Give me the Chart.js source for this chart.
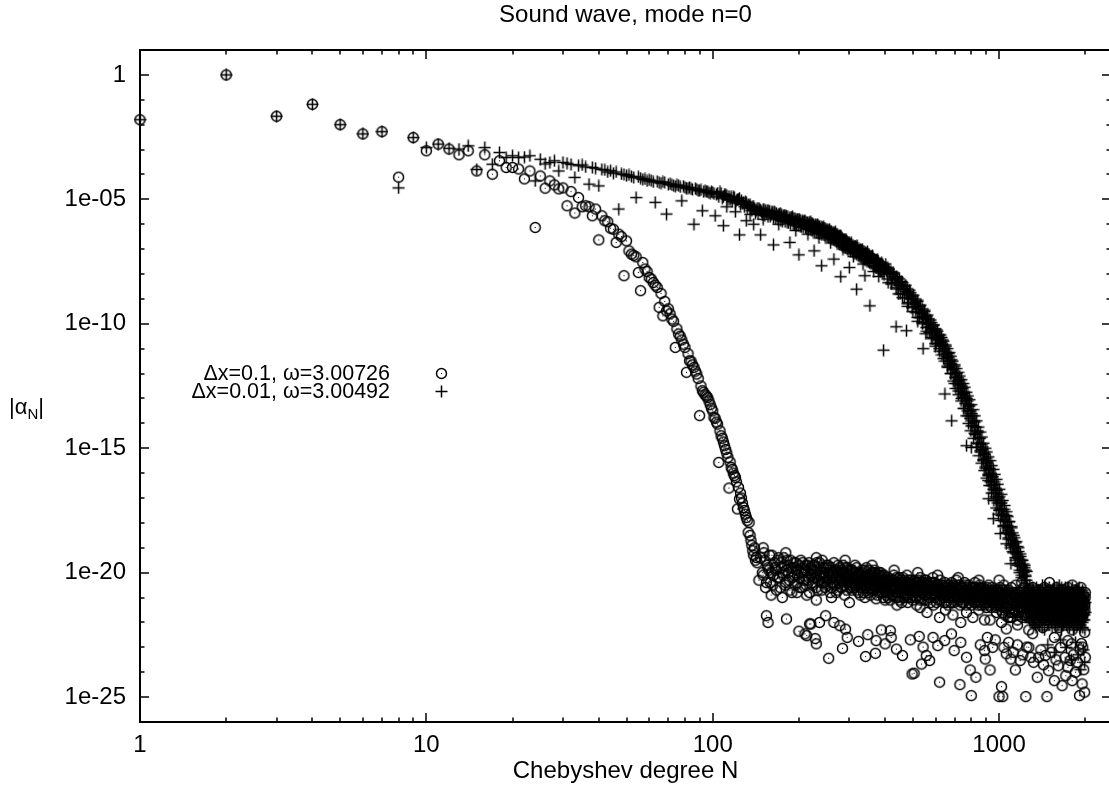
<!DOCTYPE html>
<html>
  <head>
    <title>Sound wave, mode n=0</title>
    <script src="https://cdn.jsdelivr.net/npm/chart.js"></script>
    <style>
      html,
      body {
        margin: 0;
        padding: 0;
        background: #fff;
        overflow: hidden;
      }
      #wrap {
        width: 1111px;
        height: 793px;
      }
    </style>
  </head>
  <body>
    <div id="wrap">
      <canvas id="chebChart" width="1111" height="793"></canvas>
    </div>

    <script>
      // Chebyshev coefficients, stored as [N, log10 |alpha_N|]

      // dx = 0.1 run
      const circHead = [
        [1, -1.8], [2, 0], [3, -1.66], [4, -1.18], [5, -2.0], [6, -2.37], [7, -2.28], [8, -4.11],
        [9, -2.52], [10, -3.05], [11, -2.78], [12, -2.98], [13, -3.21], [14, -3.05], [15, -3.86],
        [16, -3.21], [17, -3.99], [18, -3.45], [19, -3.72], [20, -3.72], [21, -3.78], [22, -4.18],
        [23, -3.86], [24, -6.13], [25, -4.06], [26, -4.55], [27, -4.26], [28, -4.42], [29, -4.58],
        [30, -4.54],
      ];
      const circFall = [
        [31, -5.26], [32, -4.69], [33, -5.55], [34, -4.93], [35, -5.3], [36, -5.26], [37, -5.3],
        [38, -5.66], [39, -5.39], [40, -6.63], [41, -5.66], [42, -5.86], [43, -5.9], [44, -6.16],
        [45, -6.2], [46, -6.73], [47, -6.4], [48, -6.5], [49, -8.07], [50, -6.67], [51, -7.07],
        [52, -7.2], [53, -7.25], [54, -7.31], [55, -7.94], [56, -8.67], [57, -7.54], [58, -7.8],
        [59, -7.9], [60, -8.14], [61, -8.2], [62, -8.34], [63, -8.45], [64, -8.54], [65, -9.34],
        [66, -8.78], [67, -9.68], [68, -9.1], [69, -9.48], [70, -9.4], [71, -9.6], [72, -9.81],
        [73, -9.9], [74, -10.95], [75, -10.2], [76, -10.41], [77, -10.5], [78, -10.65], [79, -10.82],
        [80, -10.95], [81, -11.95], [82, -11.2], [83, -11.49], [84, -11.5], [85, -11.65], [86, -11.75],
        [87, -11.9], [88, -12.02], [89, -12.2], [90, -13.69], [91, -12.5], [92, -12.69], [93, -12.75],
        [94, -12.85], [95, -12.9], [96, -12.96], [97, -13.1], [98, -13.25], [99, -13.39], [100, -13.5],
        [101, -13.76], [102, -13.8], [103, -13.95], [104, -14.03], [105, -15.57], [106, -14.3],
        [107, -14.5], [108, -14.6], [109, -14.75], [110, -14.9], [111, -15.05], [112, -15.2],
        [113, -15.37], [114, -16.6], [115, -15.55], [116, -15.77], [117, -15.85], [118, -16.0],
        [119, -16.1], [120, -16.17], [121, -16.35], [122, -17.44], [123, -16.57], [124, -17.04],
        [125, -16.8], [126, -17.0], [127, -17.2], [128, -17.38], [129, -17.5], [130, -17.65],
        [131, -17.78], [132, -17.9], [133, -18.38], [134, -17.98], [135, -18.5], [136, -18.71],
        [137, -18.9], [138, -19.12], [139, -19.3], [140, -19.0], [141, -19.5], [142, -19.39],
      ];
      const circBand = [
        [143, -19.6], [145, -20.3], [147, -19.4], [149, -20.0], [151, -19.2], [153, -20.6], [155, -19.7],
        [157, -19.9], [159, -20.4], [161, -19.3], [163, -20.1], [165, -19.8], [167, -20.7], [169, -19.5],
        [171, -20.2], [173, -19.6], [175, -20.0], [177, -19.4], [179, -20.5], [181, -19.9], [183, -19.7],
        [185, -20.3], [187, -19.5], [189, -20.8], [191, -19.8], [193, -20.1], [195, -19.6], [197, -20.4],
        [199, -19.9], [201, -20.2], [203, -19.5], [205, -20.6], [207, -19.8], [209, -20.0], [211, -19.7],
        [213, -20.9], [215, -20.3], [217, -19.6], [219, -20.1], [221, -19.9], [223, -20.5], [225, -19.7],
        [227, -20.2], [229, -20.0], [231, -19.6], [233, -20.7], [235, -20.1], [237, -19.8], [239, -20.4],
        [241, -19.5], [243, -20.2], [245, -20.0], [247, -20.6], [249, -19.8], [251, -20.3], [253, -19.7],
        [255, -20.1], [257, -20.8], [259, -19.9], [261, -20.4], [263, -20.0], [265, -19.6], [267, -20.5],
        [269, -20.2], [271, -19.9], [273, -20.7], [275, -20.1], [277, -19.8], [279, -20.3], [281, -20.0],
        [283, -20.6], [285, -19.7], [287, -20.2], [289, -20.9], [291, -20.0], [293, -20.4], [295, -19.8],
        [297, -20.3], [299, -20.1], [302, -20.6], [305, -19.9], [308, -20.4], [311, -20.2], [314, -19.7],
        [317, -20.5], [320, -20.1], [323, -20.8], [326, -20.0], [329, -20.3], [332, -19.9], [335, -20.6],
        [338, -20.2], [341, -20.4], [344, -19.8], [347, -20.7], [350, -20.1], [353, -20.3], [356, -20.9],
        [359, -20.0], [362, -20.5], [365, -20.2], [368, -19.9], [371, -20.6], [374, -20.3], [377, -20.1],
        [380, -20.8], [383, -20.4], [386, -20.0], [389, -20.5], [392, -20.2], [395, -21.0], [398, -20.3],
        [401, -20.4], [405, -20.9], [409, -20.2], [413, -20.6], [417, -21.1], [421, -20.3], [425, -20.7],
        [429, -20.1], [433, -20.5], [437, -21.0], [441, -20.4], [445, -20.8], [449, -20.2], [453, -20.6],
        [457, -21.2], [461, -20.5], [465, -20.3], [469, -20.9], [473, -20.6], [477, -20.1], [481, -20.7],
        [486, -20.4], [491, -21.0], [496, -20.5], [501, -20.8], [506, -20.3], [511, -20.6], [516, -21.3],
        [521, -20.4], [526, -20.9], [531, -20.2], [536, -20.7], [541, -20.5], [546, -21.1], [551, -20.6],
        [556, -20.3], [561, -20.8], [566, -20.5], [571, -21.0], [576, -20.4], [581, -20.7], [587, -20.2],
        [593, -20.9], [599, -20.6], [605, -21.2], [611, -20.5], [617, -20.8], [623, -20.3], [629, -20.7],
        [635, -21.0], [641, -20.6], [647, -20.4], [653, -20.9], [659, -20.7], [665, -21.3], [671, -20.5],
        [677, -20.8], [683, -20.4], [689, -21.0], [695, -20.6], [702, -20.9], [709, -20.3], [716, -20.7],
        [723, -21.1], [730, -20.5], [737, -20.8], [744, -20.6], [751, -21.2], [758, -20.4], [765, -20.9],
        [772, -20.7], [779, -21.0], [786, -20.5], [793, -20.8], [800, -21.3], [808, -20.6], [816, -20.9],
        [824, -20.4], [832, -21.1], [840, -20.7], [848, -20.9], [856, -20.5], [864, -21.2], [872, -20.8],
        [880, -20.6], [888, -21.0], [896, -20.7], [904, -21.4], [912, -20.8], [920, -20.5], [928, -21.1],
        [936, -20.9], [944, -20.6], [952, -21.2], [960, -20.8], [968, -21.0], [976, -20.7], [984, -21.3],
        [992, -20.9], [1000, -21.1], [1008, -20.6], [1016, -21.5], [1024, -20.9], [1032, -21.2],
        [1040, -20.5], [1048, -21.7], [1056, -21.0], [1064, -20.8], [1072, -21.4], [1080, -20.7],
        [1088, -21.1], [1096, -21.8], [1104, -20.6], [1112, -21.3], [1120, -20.9], [1128, -21.6],
        [1136, -21.0], [1144, -20.5], [1152, -21.2], [1160, -21.9], [1168, -20.8], [1176, -21.4],
        [1184, -21.0], [1192, -20.7], [1200, -21.5], [1210, -21.1], [1220, -20.6], [1230, -21.7],
        [1240, -21.2], [1250, -20.9], [1260, -21.4], [1270, -20.7], [1280, -21.8], [1290, -21.0],
        [1300, -21.3], [1310, -20.6], [1320, -21.6], [1330, -21.1], [1340, -20.8], [1350, -21.9],
        [1360, -21.2], [1370, -20.7], [1380, -21.5], [1390, -21.0], [1400, -21.3], [1410, -20.8],
        [1420, -21.7], [1430, -21.1], [1440, -20.6], [1450, -21.4], [1460, -21.9], [1470, -20.9],
        [1480, -21.2], [1490, -21.6], [1500, -20.7], [1512, -21.3], [1524, -21.0], [1536, -21.8],
        [1548, -20.8], [1560, -21.4], [1572, -21.1], [1584, -20.6], [1596, -21.7], [1608, -21.2],
        [1620, -20.9], [1632, -21.5], [1644, -22.0], [1656, -21.0], [1668, -20.7], [1680, -21.3],
        [1692, -21.8], [1704, -20.9], [1716, -21.4], [1728, -21.1], [1740, -20.6], [1752, -21.6],
        [1764, -21.2], [1776, -20.8], [1788, -21.9], [1800, -21.3], [1812, -21.0], [1824, -21.5],
        [1836, -20.7], [1848, -21.2], [1860, -21.7], [1872, -21.0], [1884, -20.8], [1896, -21.4],
        [1908, -21.9], [1920, -21.1], [1932, -20.6], [1944, -21.5], [1956, -21.2], [1968, -20.9],
        [1980, -21.6], [1992, -21.3], [2000, -20.8],
      ];
      const circBandFill = [
        [150, -20.1], [152, -19.5], [154, -20.4], [156, -19.8], [158, -19.3], [160, -20.0], [162, -20.5],
        [164, -19.6], [166, -19.9], [168, -20.2], [170, -19.4], [172, -20.6], [174, -19.8], [176, -20.1],
        [178, -19.7], [180, -20.4], [182, -19.5], [184, -20.0], [186, -20.7], [188, -19.8], [190, -20.2],
        [192, -19.6], [194, -20.5], [196, -19.9], [198, -20.1], [200, -19.7], [202, -20.6], [204, -20.0],
        [206, -19.6], [208, -20.3], [210, -19.9], [212, -20.5], [214, -19.7], [216, -20.2], [218, -20.8],
        [220, -19.8], [222, -20.1], [224, -20.4], [226, -19.7], [228, -20.2], [230, -20.6], [232, -19.9],
        [234, -20.3], [236, -19.6], [238, -20.1], [240, -20.7], [242, -20.0], [244, -19.8], [246, -20.4],
        [248, -20.2], [250, -19.7], [252, -20.5], [254, -20.0], [256, -20.3], [258, -19.8], [260, -20.6],
        [262, -20.1], [264, -20.4], [266, -19.9], [268, -20.2], [270, -20.8], [272, -20.0], [274, -19.7],
        [276, -20.4], [278, -20.2], [280, -20.6], [282, -19.9], [284, -20.3], [286, -20.0], [288, -20.5],
        [290, -19.8], [292, -20.2], [294, -20.7], [296, -20.1], [298, -20.4], [300, -19.9], [303, -20.3],
        [306, -20.7], [309, -20.0], [312, -20.5], [315, -20.2], [318, -19.8], [321, -20.4], [324, -20.1],
        [327, -20.6], [330, -20.3], [333, -20.0], [336, -20.8], [339, -20.2], [342, -20.5], [345, -20.1],
        [348, -20.4], [351, -19.9], [354, -20.6], [357, -20.3], [360, -20.1], [363, -20.7], [366, -20.4],
        [369, -20.0], [372, -20.5], [375, -20.2], [378, -20.6], [381, -20.0], [384, -20.3], [387, -20.8],
        [390, -20.4], [393, -20.1], [396, -20.6], [399, -20.3],
        [403, -20.6], [407, -20.3], [411, -20.8], [415, -20.4], [419, -20.6], [423, -20.9], [427, -20.3],
        [431, -20.7], [435, -20.4], [439, -20.6], [443, -21.0], [447, -20.5], [451, -20.3], [455, -20.8],
        [459, -20.4], [463, -20.7], [467, -21.0], [471, -20.4], [475, -20.6], [479, -20.9], [484, -20.3],
        [489, -20.7], [494, -20.5], [499, -21.1], [504, -20.6], [509, -20.4], [514, -20.8], [519, -20.6],
        [524, -20.3], [529, -21.0], [534, -20.5], [539, -20.8], [544, -20.4], [549, -20.9], [554, -20.6],
        [559, -20.4], [564, -21.1], [569, -20.7], [574, -20.5], [579, -20.9], [584, -20.6], [590, -20.4],
        [596, -21.0], [602, -20.7], [608, -20.5], [614, -21.1], [620, -20.6], [626, -20.9], [632, -20.5],
        [638, -20.8], [644, -21.2], [650, -20.6], [656, -20.8], [662, -20.5], [668, -21.0], [674, -20.7],
        [680, -21.2], [686, -20.6], [692, -20.8], [698, -21.1], [705, -20.6], [712, -20.9], [719, -20.5],
        [726, -21.0], [733, -20.7], [740, -21.2], [747, -20.6], [754, -20.9], [761, -20.7], [768, -21.3],
        [775, -20.6], [782, -20.9], [789, -21.1], [796, -20.6], [804, -21.0], [812, -20.8], [820, -21.2],
        [828, -20.6], [836, -20.9], [844, -21.3], [852, -20.7], [860, -21.0], [868, -20.6], [876, -21.1],
        [884, -20.8], [892, -21.3], [900, -20.9], [908, -20.6], [916, -21.2], [924, -20.8], [932, -21.0],
        [940, -21.4], [948, -20.7], [956, -21.1], [964, -20.9], [972, -21.3], [980, -20.8], [988, -21.1],
        [996, -20.7],
        [1004, -21.3], [1012, -20.8], [1020, -21.1], [1028, -21.6], [1036, -20.9], [1044, -21.2],
        [1052, -20.7], [1060, -21.4], [1068, -21.1], [1076, -21.8], [1084, -20.9], [1092, -21.3],
        [1100, -21.0], [1108, -21.6], [1116, -20.8], [1124, -21.2], [1132, -21.5], [1140, -20.9],
        [1148, -21.3], [1156, -21.0], [1164, -21.7], [1172, -21.1], [1180, -20.8], [1188, -21.4],
        [1196, -21.2], [1205, -21.8], [1215, -20.9], [1225, -21.3], [1235, -21.0], [1245, -21.6],
        [1255, -21.2], [1265, -20.8], [1275, -21.5], [1285, -21.1], [1295, -21.7], [1305, -21.0],
        [1315, -21.3], [1325, -20.9], [1335, -21.5], [1345, -21.2], [1355, -21.8], [1365, -21.0],
        [1375, -21.4], [1385, -20.9], [1395, -21.6], [1405, -21.2], [1415, -21.0], [1425, -21.5],
        [1435, -21.8], [1445, -21.1], [1455, -20.9], [1465, -21.4], [1475, -21.7], [1485, -21.0],
        [1495, -21.3], [1506, -20.9], [1518, -21.6], [1530, -21.2], [1542, -21.0], [1554, -21.7],
        [1566, -21.3], [1578, -20.9], [1590, -21.5], [1602, -21.1], [1614, -21.8], [1626, -21.0],
        [1638, -21.4], [1650, -20.8], [1662, -21.6], [1674, -21.2], [1686, -21.0], [1698, -21.5],
        [1710, -21.9], [1722, -21.1], [1734, -21.3], [1746, -20.9], [1758, -21.7], [1770, -21.2],
        [1782, -21.4], [1794, -21.0], [1806, -21.6], [1818, -21.2], [1830, -20.9], [1842, -21.5],
        [1854, -21.8], [1866, -21.1], [1878, -21.4], [1890, -21.0], [1902, -21.6], [1914, -21.2],
        [1926, -21.8], [1938, -21.0], [1950, -21.4], [1962, -21.7], [1974, -21.1], [1986, -21.3],
        [1998, -21.0],
      ];
      const circBandMore = [
        [301, -20.2], [304, -20.5], [307, -19.9], [310, -20.6], [313, -20.3], [316, -20.0], [319, -20.7],
        [322, -20.2], [325, -20.4], [328, -20.9], [331, -20.1], [334, -20.3], [337, -20.5], [340, -19.9],
        [343, -20.6], [346, -20.2], [349, -20.8], [352, -20.4], [355, -20.1], [358, -20.6], [361, -20.3],
        [364, -20.0], [367, -20.7], [370, -20.4], [373, -20.2], [376, -20.9], [379, -20.5], [382, -20.1],
        [385, -20.6], [388, -20.3], [391, -20.8], [394, -20.4], [397, -20.1],
        [402, -20.8], [406, -20.5], [410, -21.0], [414, -20.3], [418, -20.7], [422, -20.5], [426, -20.9],
        [430, -20.4], [434, -20.6], [438, -20.2], [442, -20.8], [446, -20.5], [450, -21.1], [454, -20.4],
        [458, -20.7], [462, -20.2], [466, -20.6], [470, -20.8], [474, -20.4], [478, -21.0], [482, -20.5],
        [487, -20.7], [492, -20.3], [497, -20.9], [502, -20.5], [507, -20.7], [512, -21.0], [517, -20.4],
        [522, -20.7], [527, -20.5], [532, -21.1], [537, -20.4], [542, -20.8], [547, -20.6], [552, -20.3],
        [557, -20.9], [562, -20.5], [567, -20.8], [572, -20.6], [577, -21.2], [582, -20.5], [588, -20.8],
        [594, -20.4], [600, -20.9], [606, -20.6], [612, -20.8], [618, -20.5], [624, -21.1], [630, -20.7],
        [636, -20.5], [642, -20.9], [648, -20.7], [654, -21.2], [660, -20.6], [666, -20.8], [672, -21.0],
        [678, -20.6], [684, -20.9], [690, -20.5], [696, -21.2], [703, -20.8], [710, -20.6], [717, -21.0],
        [724, -20.7], [731, -21.3], [738, -20.6], [745, -20.9], [752, -20.7], [759, -21.1], [766, -20.5],
        [773, -20.9], [780, -20.8], [787, -21.2], [794, -20.7], [802, -20.9], [810, -21.1], [818, -20.6],
        [826, -21.0], [834, -20.8], [842, -21.2], [850, -20.6], [858, -20.9], [866, -21.3], [874, -20.7],
        [882, -21.0], [890, -20.8], [898, -21.2], [906, -20.9], [914, -20.7], [922, -21.3], [930, -20.8],
        [938, -21.0], [946, -21.2], [954, -20.7], [962, -21.1], [970, -20.9], [978, -21.4], [986, -20.8],
        [994, -21.0],
        [1002, -20.8], [1014, -21.2], [1026, -20.7], [1038, -21.4], [1050, -21.0], [1062, -20.8],
        [1074, -21.3], [1086, -21.6], [1098, -20.9], [1110, -21.1], [1122, -21.5], [1134, -20.8],
        [1146, -21.3], [1158, -21.0], [1170, -21.6], [1182, -21.2], [1194, -20.9], [1207, -21.4],
        [1222, -21.0], [1237, -21.7], [1252, -20.8], [1267, -21.3], [1282, -21.0], [1297, -21.5],
        [1312, -21.9], [1327, -21.2], [1342, -20.9], [1357, -21.4], [1372, -21.1], [1387, -21.7],
        [1402, -21.0], [1417, -21.3], [1432, -20.9], [1447, -21.6], [1462, -21.2], [1477, -21.8],
        [1492, -21.0], [1508, -21.4], [1526, -21.1], [1544, -21.6], [1562, -20.9], [1580, -21.3],
        [1598, -21.9], [1616, -21.1], [1634, -21.4], [1652, -20.9], [1670, -21.6], [1688, -21.2],
        [1706, -21.5], [1724, -21.0], [1742, -21.8], [1760, -21.3], [1778, -21.0], [1796, -21.6],
        [1814, -21.4], [1832, -21.1], [1850, -21.7], [1868, -20.9], [1886, -21.3], [1904, -21.6],
        [1922, -21.0], [1940, -21.4], [1958, -21.8], [1976, -21.2], [1994, -21.5],
      ];
      const circEdge = [
        [160, -20.9], [175, -21.0], [197, -20.8], [230, -21.1], [260, -21.0], [300, -21.2], [340, -21.0],
        [372, -21.05], [400, -21.1], [440, -21.3], [480, -21.2], [530, -21.4], [560, -21.6], [590, -21.3],
        [620, -21.8], [650, -21.5], [690, -21.7], [735, -22.0], [770, -21.6], [810, -21.8], [850, -21.5],
        [890, -21.9], [930, -21.9], [980, -21.6], [1020, -22.0], [1060, -22.26], [1110, -21.8],
        [1160, -22.1], [1220, -21.7], [1270, -22.3], [1310, -22.45], [1360, -22.0], [1420, -22.2],
        [1480, -21.9], [1560, -22.6], [1620, -22.2], [1680, -22.0], [1740, -22.73], [1800, -22.3],
        [1860, -22.1], [1940, -22.85], [1990, -22.4],
        [150, -19.0], [180, -19.2], [230, -19.4], [290, -19.5], [360, -19.7], [430, -19.9], [520, -20.0],
        [610, -20.1], [720, -20.2], [850, -20.3], [1000, -20.3], [1200, -20.4], [1500, -20.4], [1800, -20.5],
      ];
      const circLow = [
        [154, -21.73], [156, -22.0], [181, -21.86], [200, -22.35], [210, -22.46], [213, -22.53],
        [218, -22.06], [220, -22.06], [228, -22.65], [230, -22.86], [236, -22.0], [248, -21.73],
        [254, -23.44], [265, -22.0], [278, -22.13], [284, -23.04], [291, -22.27], [295, -22.6],
        [323, -22.76], [342, -23.37], [348, -22.49], [370, -23.24], [372, -22.73], [388, -22.3],
        [400, -22.86], [417, -22.33], [420, -22.6], [438, -23.07], [460, -23.33], [490, -22.7],
        [497, -24.07], [505, -24.04], [526, -22.56], [536, -23.67], [543, -22.99], [557, -23.33],
        [572, -23.53], [588, -22.6], [611, -22.93], [620, -24.4], [646, -22.73], [682, -22.46],
        [697, -23.13], [730, -24.5], [735, -22.8], [770, -23.4], [793, -23.91], [800, -24.94],
        [830, -24.2], [860, -22.9], [890, -23.13], [895, -23.47], [910, -22.6], [930, -23.91],
        [950, -23.0], [970, -22.7], [1000, -24.98], [1020, -24.58], [1030, -24.98], [1040, -23.0],
        [1060, -23.26], [1080, -22.8], [1100, -23.47], [1120, -23.2], [1140, -23.91], [1160, -22.9],
        [1185, -23.53], [1210, -23.3], [1240, -24.98], [1250, -22.99], [1270, -23.0], [1290, -23.4],
        [1320, -23.6], [1360, -24.2], [1375, -23.4], [1400, -23.1], [1430, -23.7], [1450, -23.33],
        [1470, -24.98], [1490, -23.94], [1520, -23.2], [1560, -24.34], [1580, -23.5], [1610, -23.74],
        [1640, -23.0], [1660, -24.54], [1700, -23.4], [1710, -24.14], [1740, -23.8], [1770, -23.53],
        [1790, -22.86], [1800, -24.34], [1820, -23.3], [1850, -24.0], [1880, -23.6], [1910, -24.94],
        [1920, -23.1], [1950, -24.47], [1960, -22.99], [1975, -23.9], [1990, -24.8], [2000, -23.4],
      ];

      // dx = 0.01 run
      const plusHead = [
        [1, -1.8], [2, 0], [3, -1.66], [4, -1.18], [5, -2.0], [6, -2.37], [7, -2.28], [8, -4.54],
        [9, -2.52], [10, -2.92], [11, -2.78], [12, -2.95], [13, -2.98], [14, -2.85], [15, -3.8],
        [16, -2.92], [17, -3.59], [18, -3.12], [19, -3.32], [20, -3.25], [21, -3.32], [22, -3.3],
        [23, -3.25], [24, -4.26], [25, -3.39], [26, -3.58], [27, -3.52], [28, -3.45], [29, -3.86],
        [30, -3.52],
      ];
      const plusMid = [
        [31, -3.55], [32, -3.6], [33, -4.12], [34, -3.65], [35, -3.62], [36, -3.7], [37, -4.39],
        [38, -3.72], [39, -3.75], [40, -4.46], [41, -3.8], [42, -3.82], [43, -3.9], [44, -3.85],
        [45, -3.95], [46, -3.9], [47, -5.39], [48, -3.98], [49, -4.0], [50, -4.05], [51, -4.02],
        [52, -4.08], [53, -4.12], [54, -4.93], [55, -4.1], [56, -4.15], [57, -4.2], [58, -4.18],
        [59, -4.26], [60, -4.22], [62, -4.3], [63, -5.12], [64, -4.28], [66, -4.35], [68, -4.32],
        [69, -5.59], [70, -4.4], [72, -4.42], [74, -4.48], [76, -4.45], [78, -5.06], [80, -4.52],
        [82, -4.55], [84, -4.58], [86, -6.0], [88, -4.6], [90, -4.65], [92, -5.46], [94, -4.66],
        [96, -4.7], [98, -4.75], [100, -4.72], [102, -5.66],
        [61, -4.25], [65, -4.33], [67, -4.3], [71, -4.38], [73, -4.45], [75, -4.42], [77, -4.5],
        [79, -4.47], [81, -4.55], [83, -4.52], [85, -4.6], [87, -4.57], [89, -4.65], [91, -4.62],
        [93, -4.7], [95, -4.68], [97, -4.74], [99, -4.7],
      ];
      const plusBand = [
        [103, -4.8], [106, -4.7], [109, -4.9], [112, -4.85], [115, -5.0], [118, -4.9], [121, -5.05],
        [124, -4.95], [127, -5.15], [130, -5.1], [133, -5.2], [136, -5.35], [139, -5.3], [142, -5.45],
        [145, -5.35], [148, -5.5], [151, -5.4], [154, -5.55], [157, -5.45], [160, -5.6], [164, -5.5],
        [168, -5.65], [172, -5.55], [176, -5.7], [180, -5.65], [185, -5.8], [190, -5.7], [195, -5.85],
        [200, -5.8], [205, -5.95], [210, -5.85], [215, -6.0], [220, -5.9], [226, -6.1], [232, -6.0],
        [238, -6.2], [244, -6.1], [250, -6.3], [256, -6.2], [262, -6.4], [268, -6.3], [274, -6.5],
        [280, -6.45], [286, -6.7], [292, -6.6], [298, -6.8], [305, -6.75], [312, -6.95], [319, -6.85],
        [326, -7.1], [333, -7.0], [340, -7.2], [347, -7.1], [354, -7.35], [361, -7.25], [368, -7.5],
        [375, -7.4], [382, -7.65], [389, -7.55], [396, -7.8],
        [104, -4.75], [110, -4.82], [116, -4.9], [122, -5.0], [128, -5.12], [134, -5.25], [140, -5.38],
        [147, -5.44], [153, -5.46], [162, -5.52], [170, -5.6], [178, -5.66], [188, -5.74], [198, -5.82],
        [208, -5.88], [218, -5.95], [229, -6.04], [241, -6.13], [253, -6.24], [265, -6.35], [277, -6.48],
        [289, -6.63], [301, -6.77], [315, -6.9], [330, -7.04], [344, -7.17], [358, -7.3], [372, -7.45],
        [386, -7.6], [400, -7.75],
      ];
      const plusBandFill = [
        [101, -4.78], [105, -4.9], [107, -4.76], [108, -4.95], [111, -4.82], [113, -5.0], [114, -4.88],
        [117, -5.08], [119, -4.92], [120, -5.15], [123, -5.0], [125, -5.2], [126, -5.05], [129, -5.3],
        [131, -5.12], [132, -5.35], [135, -5.22], [137, -5.45], [138, -5.3], [141, -5.55], [143, -5.36],
        [144, -5.58], [146, -5.4], [149, -5.62], [150, -5.42], [152, -5.65], [155, -5.45], [156, -5.7],
        [158, -5.48], [159, -5.68], [161, -5.5], [163, -5.75], [165, -5.54], [166, -5.78], [167, -5.56],
        [169, -5.8], [171, -5.6], [173, -5.85], [174, -5.62], [175, -5.88], [177, -5.65], [179, -5.9],
        [181, -5.67], [182, -5.92], [183, -5.7], [184, -5.95], [186, -5.72], [187, -5.98], [189, -5.74],
        [191, -6.0], [192, -5.77], [193, -6.02], [194, -5.78], [196, -6.05], [197, -5.8], [199, -6.06],
        [201, -5.83], [202, -6.08], [203, -5.85], [204, -6.1], [206, -5.87], [207, -6.12], [209, -5.89],
        [211, -6.15], [212, -5.92], [213, -6.18], [214, -5.93], [216, -6.2], [217, -5.95], [219, -6.22],
        [221, -5.98], [222, -6.25], [223, -5.99], [224, -6.27], [225, -6.01], [227, -6.3], [228, -6.03],
        [230, -6.32], [231, -6.06], [233, -6.35], [234, -6.07], [235, -6.37], [236, -6.09], [237, -6.38],
        [239, -6.11], [240, -6.4], [242, -6.14], [243, -6.42], [245, -6.16], [246, -6.45], [247, -6.18],
        [248, -6.47], [249, -6.2], [251, -6.5], [252, -6.23], [254, -6.52], [255, -6.25], [257, -6.55],
        [258, -6.28], [259, -6.58], [260, -6.3], [261, -6.6], [263, -6.33], [264, -6.63], [266, -6.36],
        [267, -6.66], [269, -6.39], [270, -6.7], [271, -6.41], [272, -6.72], [273, -6.43], [275, -6.75],
        [276, -6.46], [278, -6.8], [279, -6.51], [281, -6.83], [282, -6.55], [283, -6.86], [284, -6.57],
        [285, -6.88], [287, -6.61], [288, -6.92], [290, -6.65], [291, -6.95], [293, -6.68], [294, -6.98],
        [295, -6.7], [296, -7.0], [297, -6.72], [299, -7.03], [300, -6.75], [303, -7.08], [304, -6.8],
        [307, -7.1], [309, -6.84], [310, -7.14], [313, -6.88], [314, -7.18], [316, -6.9], [318, -7.2],
        [320, -6.95], [322, -7.25], [324, -6.99], [325, -7.28], [328, -7.02], [329, -7.32], [331, -7.05],
        [332, -7.35], [335, -7.08], [336, -7.38], [338, -7.11], [339, -7.42], [342, -7.15], [343, -7.45],
        [345, -7.17], [346, -7.48], [349, -7.21], [350, -7.5], [352, -7.23], [353, -7.55], [356, -7.29],
        [357, -7.58], [360, -7.33], [363, -7.65], [364, -7.37], [366, -7.68], [367, -7.4], [370, -7.72],
        [371, -7.44], [373, -7.75], [376, -7.47], [378, -7.8], [379, -7.51], [381, -7.83], [384, -7.57],
        [385, -7.88], [387, -7.6], [388, -7.9], [391, -7.66], [393, -7.95], [394, -7.69], [397, -8.0],
        [399, -7.73],
      ];
      const plusSteep = [
        [404, -7.85], [409, -7.75], [414, -7.95], [419, -7.9], [424, -8.1], [429, -8.0], [434, -8.2],
        [439, -8.1], [444, -8.35], [449, -8.2], [454, -8.45], [459, -8.35], [464, -8.6], [469, -8.5],
        [474, -8.7], [479, -8.6], [484, -8.85], [489, -8.75], [494, -9.0], [499, -8.9], [504, -9.15],
        [509, -9.0], [514, -9.3], [519, -9.1], [524, -9.4], [529, -9.3], [534, -9.55], [539, -9.4],
        [544, -9.7], [549, -9.5], [554, -9.8], [559, -9.7], [564, -9.95], [569, -9.8], [574, -10.1],
        [579, -9.95], [584, -10.2], [589, -10.05], [594, -10.35], [599, -10.2], [604, -10.5],
        [609, -10.3], [614, -10.6], [619, -10.45], [624, -10.75], [629, -10.55], [634, -10.85],
        [639, -10.7], [644, -11.0], [649, -10.85], [654, -11.2], [659, -11.0], [664, -11.35],
        [669, -11.15], [674, -11.5], [679, -11.3], [684, -11.65], [689, -11.5], [694, -11.8],
        [699, -11.65], [704, -12.0], [709, -11.8], [714, -12.15], [719, -11.95], [724, -12.3],
        [729, -12.1], [734, -12.45], [739, -12.25], [744, -12.6], [749, -12.4], [754, -12.8],
        [759, -12.55], [764, -12.95], [769, -12.75], [774, -13.1], [779, -12.9], [784, -13.3],
        [789, -13.05], [794, -13.5], [799, -13.25], [805, -13.7], [811, -13.45], [817, -13.9],
        [823, -13.7], [829, -14.15], [835, -13.9], [841, -14.35], [847, -14.15], [853, -14.6],
        [859, -14.35], [865, -14.85], [871, -14.55], [877, -15.05], [883, -14.8], [889, -15.2],
        [895, -15.0], [901, -15.4], [907, -15.15], [913, -15.6], [919, -15.35], [925, -15.8],
        [931, -15.5], [937, -16.0], [943, -15.7], [949, -16.15], [955, -15.85], [961, -16.35],
        [967, -16.05], [973, -16.6], [979, -16.25], [985, -16.8], [991, -16.45], [997, -17.0],
        [1003, -16.65], [1010, -17.2], [1017, -16.85], [1024, -17.45], [1031, -17.1], [1038, -17.65],
        [1045, -17.3], [1052, -17.85], [1059, -17.55], [1066, -18.1], [1073, -17.75], [1080, -18.3],
        [1087, -17.95], [1094, -18.45], [1101, -18.15], [1108, -18.65], [1115, -18.4], [1122, -18.85],
        [1129, -18.6], [1136, -19.05], [1143, -18.8], [1150, -19.25], [1157, -18.95], [1164, -19.4],
        [1171, -19.15], [1178, -19.6], [1185, -19.35], [1192, -19.75], [1199, -19.5], [1206, -19.9],
        [1213, -19.65], [1220, -20.0], [1227, -19.8], [1234, -20.15], [1241, -19.9], [1248, -20.3],
        [420, -8.4], [440, -8.6], [460, -8.95], [480, -9.2], [500, -9.5], [520, -9.75], [540, -10.0],
        [560, -10.3], [580, -10.55], [600, -10.8], [620, -11.1], [640, -11.4], [660, -11.7],
        [680, -12.0], [700, -12.4], [720, -12.7], [740, -13.0], [760, -13.4], [780, -13.7],
        [800, -14.1], [820, -14.4], [840, -14.8], [860, -15.1], [880, -15.5], [900, -15.8],
        [920, -16.1], [940, -16.5], [960, -16.8], [980, -17.1], [1000, -17.5], [1020, -17.7],
        [1040, -18.1], [1060, -18.4], [1080, -18.6], [1100, -19.0], [1120, -19.2], [1140, -19.5],
        [1160, -19.7], [1180, -20.0], [1200, -20.2],
      ];
      const plusSteepFill = [
        [402, -7.6], [407, -8.2], [412, -7.8], [417, -8.0], [422, -8.35], [427, -7.95], [432, -8.25],
        [437, -8.55], [442, -8.15], [447, -8.45], [452, -8.8], [457, -8.3], [462, -8.6], [467, -8.95],
        [472, -8.45], [477, -8.8], [482, -9.15], [487, -8.65], [492, -9.0], [497, -9.35], [502, -8.85],
        [507, -9.2], [512, -9.55], [517, -9.05], [522, -9.4], [527, -9.75], [532, -9.25], [537, -9.6],
        [542, -9.95], [547, -9.45], [552, -9.8], [557, -10.15], [562, -9.65], [567, -10.0], [572, -10.35],
        [577, -9.85], [582, -10.25], [587, -10.6], [592, -10.05], [597, -10.45], [602, -10.8],
        [607, -10.25], [612, -10.65], [617, -11.0], [622, -10.45], [627, -10.85], [632, -11.25],
        [637, -10.65], [642, -11.1], [647, -11.5], [652, -10.9], [657, -11.3], [662, -11.75],
        [667, -11.2], [672, -11.6], [677, -12.0], [682, -11.45], [687, -11.85], [692, -12.3],
        [697, -11.7], [702, -12.15], [707, -12.6], [712, -12.0], [717, -12.4], [722, -12.85],
        [727, -12.25], [732, -12.7], [737, -13.1], [742, -12.5], [747, -12.95], [752, -13.4],
        [757, -12.75], [762, -13.2], [767, -13.7], [772, -13.0], [777, -13.5], [782, -14.0],
        [787, -13.3], [792, -13.8], [797, -14.3], [803, -13.6], [809, -14.1], [815, -14.6],
        [821, -13.95], [827, -14.45], [833, -14.95], [839, -14.3], [845, -14.8], [851, -15.3],
        [857, -14.6], [863, -15.15], [869, -15.6], [875, -14.95], [881, -15.45], [887, -15.9],
        [893, -15.25], [899, -15.75], [905, -16.2], [911, -15.55], [917, -16.05], [923, -16.5],
        [929, -15.85], [935, -16.35], [941, -16.8], [947, -16.15], [953, -16.65], [959, -17.1],
        [965, -16.45], [971, -16.95], [977, -17.4], [983, -16.7], [989, -17.2], [995, -17.65],
        [1001, -16.95], [1007, -17.45], [1013, -17.9], [1020, -17.2], [1027, -17.7], [1034, -18.15],
        [1041, -17.45], [1048, -17.95], [1055, -18.4], [1062, -17.7], [1069, -18.2], [1076, -18.65],
        [1083, -17.95], [1090, -18.45], [1097, -18.9], [1104, -18.2], [1111, -18.7], [1118, -19.15],
        [1125, -18.5], [1132, -18.95], [1139, -19.4], [1146, -18.75], [1153, -19.2], [1160, -19.65],
        [1167, -19.0], [1174, -19.45], [1181, -19.9], [1188, -19.25], [1195, -19.7], [1202, -20.1],
        [1209, -19.5], [1216, -19.9], [1223, -20.3], [1230, -19.7], [1237, -20.1], [1244, -20.45],
        [1251, -19.95],
      ];
      const plusStray = [
        [109, -6.06], [112, -5.3], [120, -5.5], [124, -6.43], [131, -5.86], [135, -5.6], [139, -6.0],
        [147, -6.43], [150, -5.8], [163, -6.83], [170, -6.0], [186, -6.73], [195, -6.25], [200, -7.23],
        [215, -6.4], [226, -7.07], [235, -6.55], [240, -7.67], [258, -6.75], [265, -7.4], [280, -8.11],
        [285, -7.0], [300, -7.74], [310, -7.3], [318, -8.61], [335, -7.6], [340, -8.07], [354, -9.28],
        [365, -7.9], [380, -8.1], [395, -11.06], [410, -8.35], [437, -10.12], [445, -8.8], [475, -10.28],
        [480, -9.3], [520, -9.9], [543, -11.0], [555, -10.4], [600, -10.9], [647, -12.82], [683, -13.9],
        [770, -14.9], [800, -14.97], [915, -16.3], [920, -17.03], [955, -17.83], [1010, -18.43],
        [1060, -18.84], [1100, -19.64],
      ];
      const plusTail = [
        [1256, -20.6], [1262, -21.3], [1268, -20.9], [1274, -21.8], [1280, -20.5], [1286, -21.1],
        [1292, -21.6], [1298, -20.8], [1304, -22.0], [1310, -21.2], [1316, -20.7], [1322, -21.5],
        [1328, -21.9], [1334, -20.9], [1340, -21.3], [1346, -22.2], [1352, -20.6], [1358, -21.7],
        [1364, -21.0], [1370, -21.4], [1376, -20.8], [1382, -22.1], [1388, -21.2], [1394, -20.7],
        [1400, -21.6], [1406, -21.0], [1412, -21.9], [1418, -20.5], [1424, -21.3], [1430, -21.7],
        [1436, -20.9], [1442, -22.3], [1448, -21.1], [1454, -21.5], [1460, -20.7], [1466, -21.8],
        [1472, -21.2], [1478, -20.9], [1484, -22.0], [1490, -21.4], [1496, -20.6], [1502, -21.6],
        [1508, -21.0], [1514, -21.9], [1520, -21.3], [1526, -20.8], [1532, -22.2], [1538, -21.5],
        [1544, -21.1], [1550, -20.7], [1556, -21.7], [1562, -21.2], [1568, -22.0], [1574, -20.9],
        [1580, -21.4], [1586, -21.8], [1592, -20.6], [1598, -21.3], [1604, -22.1], [1610, -21.0],
        [1616, -21.6], [1622, -20.5], [1628, -21.9], [1634, -21.2], [1640, -20.8], [1646, -21.5],
        [1652, -22.3], [1658, -21.1], [1664, -20.7], [1670, -21.7], [1676, -21.3], [1682, -22.0],
        [1688, -20.9], [1694, -21.4], [1700, -21.8], [1706, -20.6], [1712, -21.2], [1718, -22.1],
        [1724, -21.0], [1730, -21.6], [1736, -20.8], [1742, -21.9], [1748, -21.3], [1754, -20.7],
        [1760, -22.2], [1766, -21.5], [1772, -21.0], [1778, -21.7], [1784, -20.9], [1790, -22.0],
        [1796, -21.4], [1802, -20.6], [1808, -21.8], [1814, -21.1], [1820, -22.3], [1826, -21.3],
        [1832, -20.8], [1838, -21.6], [1844, -21.9], [1850, -21.0], [1856, -20.7], [1862, -21.5],
        [1868, -22.1], [1874, -21.2], [1880, -20.9], [1886, -21.7], [1892, -22.0], [1898, -21.1],
        [1904, -20.6], [1910, -21.4], [1916, -21.8], [1922, -22.2], [1928, -21.0], [1934, -20.8],
        [1940, -21.6], [1946, -21.3], [1952, -22.0], [1958, -20.7], [1964, -21.5], [1970, -21.9],
        [1976, -21.1], [1982, -20.9], [1988, -21.7], [1994, -22.3], [2000, -21.2],
        [1480, -22.9], [1560, -23.2], [1640, -22.7], [1720, -23.0], [1790, -23.5], [1850, -22.8],
        [1890, -23.3], [1930, -23.9], [1970, -23.1], [1990, -23.6],
      ];
      const plusTailFill = [
        [1259, -21.0], [1265, -21.6], [1271, -20.7], [1277, -21.3], [1283, -22.0], [1289, -20.9],
        [1295, -21.4], [1301, -21.1], [1307, -21.8], [1313, -20.6], [1319, -21.2], [1325, -21.7],
        [1331, -21.0], [1337, -22.1], [1343, -21.4], [1349, -20.8], [1355, -21.6], [1361, -21.2],
        [1367, -21.9], [1373, -20.7], [1379, -21.4], [1385, -21.0], [1391, -21.8], [1397, -21.2],
        [1403, -20.9], [1409, -21.5], [1415, -22.2], [1421, -21.0], [1427, -21.6], [1433, -20.8],
        [1439, -21.3], [1445, -21.9], [1451, -20.6], [1457, -21.2], [1463, -21.7], [1469, -21.0],
        [1475, -21.5], [1481, -20.8], [1487, -21.3], [1493, -22.1], [1499, -21.1], [1505, -21.7],
        [1511, -20.7], [1517, -21.4], [1523, -22.0], [1529, -21.0], [1535, -21.6], [1541, -20.8],
        [1547, -21.3], [1553, -21.9], [1559, -20.6], [1565, -21.5], [1571, -21.1], [1577, -22.2],
        [1583, -21.0], [1589, -21.6], [1595, -20.9], [1601, -21.4], [1607, -21.8], [1613, -20.7],
        [1619, -21.2], [1625, -22.0], [1631, -21.5], [1637, -20.9], [1643, -21.7], [1649, -21.1],
        [1655, -20.6], [1661, -21.4], [1667, -22.1], [1673, -21.0], [1679, -21.6], [1685, -20.8],
        [1691, -21.9], [1697, -21.2], [1703, -21.5], [1709, -20.7], [1715, -21.8], [1721, -21.3],
        [1727, -22.0], [1733, -21.0], [1739, -21.5], [1745, -20.6], [1751, -21.2], [1757, -21.8],
        [1763, -21.0], [1769, -22.1], [1775, -21.4], [1781, -20.8], [1787, -21.6], [1793, -21.2],
        [1799, -21.9], [1805, -20.9], [1811, -21.5], [1817, -21.0], [1823, -21.8], [1829, -22.2],
        [1835, -21.1], [1841, -20.7], [1847, -21.4], [1853, -21.7], [1859, -21.0], [1865, -21.6],
        [1871, -20.8], [1877, -22.0], [1883, -21.3], [1889, -21.5], [1895, -20.7], [1901, -21.9],
        [1907, -21.2], [1913, -21.0], [1919, -21.6], [1925, -22.1], [1931, -21.3], [1937, -20.9],
        [1943, -21.8], [1949, -21.1], [1955, -21.5], [1961, -22.2], [1967, -20.8], [1973, -21.4],
        [1979, -21.0], [1985, -21.9], [1991, -21.2], [1997, -21.6],
      ];

      // axis ticks
      const xTickValues = [1, 10, 100, 1000];
      const xTickLabels = ["1", "10", "100", "1000"];
      const xMinorValues = [2, 3, 4, 5, 6, 7, 8, 9, 20, 30, 40, 50, 60, 70, 80, 90,
        200, 300, 400, 500, 600, 700, 800, 900, 2000];
      const yTickValues = [1, 1e-5, 1e-10, 1e-15, 1e-20, 1e-25];
      const yTickLabels = ["1", "1e-05", "1e-10", "1e-15", "1e-20", "1e-25"];

      const seriesLabels = ["\u0394x=0.1, \u03c9=3.00726", "\u0394x=0.01, \u03c9=3.00492"];
      const FONT = "'Liberation Sans', Arial, Helvetica, sans-serif";

      const toPoints = (pairs) => pairs.map(([n, e]) => ({ x: n, y: Math.pow(10, e) }));

      // gnuplot-like markers: open circle with centre dot, and plus
      function circleMark() {
        const c = document.createElement("canvas");
        c.width = 13;
        c.height = 13;
        const g = c.getContext("2d");
        g.strokeStyle = "#000";
        g.lineWidth = 1.45;
        g.beginPath();
        g.arc(6.5, 6.5, 5, 0, Math.PI * 2);
        g.stroke();
        g.fillStyle = "#000";
        g.fillRect(6, 6, 1, 1);
        return c;
      }
      function plusMark() {
        const c = document.createElement("canvas");
        c.width = 13;
        c.height = 13;
        const g = c.getContext("2d");
        g.strokeStyle = "#000";
        g.lineWidth = 1.5;
        g.beginPath();
        g.moveTo(0.5, 6.5);
        g.lineTo(12.5, 6.5);
        g.moveTo(6.5, 0.5);
        g.lineTo(6.5, 12.5);
        g.stroke();
        return c;
      }
      const circleImg = circleMark();
      const plusImg = plusMark();

      // frame, inward ticks on all four sides, key and y label
      const frameTicks = {
        id: "frameTicks",
        afterDatasetsDraw(chart) {
          const { ctx, chartArea: a, scales } = chart;
          const xs = scales.x;
          const ys = scales.y;
          const seg = (x1, y1, x2, y2) => {
            ctx.beginPath();
            ctx.moveTo(x1, y1);
            ctx.lineTo(x2, y2);
            ctx.stroke();
          };
          ctx.save();
          ctx.strokeStyle = "#000";
          ctx.lineWidth = 1.5;
          for (const v of xTickValues) {
            const px = Math.round(xs.getPixelForValue(v));
            seg(px, a.bottom, px, a.bottom - 9);
            seg(px, a.top, px, a.top + 9);
          }
          for (const v of xMinorValues) {
            const px = Math.round(xs.getPixelForValue(v));
            seg(px, a.bottom, px, a.bottom - 4.5);
            seg(px, a.top, px, a.top + 4.5);
          }
          for (let e = 0; e >= -25; e--) {
            const py = Math.round(ys.getPixelForValue(Math.pow(10, e)));
            const len = e % 5 === 0 ? 9 : 4.5;
            seg(a.left, py, a.left + len, py);
            seg(a.right, py, a.right - len, py);
          }
          ctx.lineWidth = 2;
          ctx.strokeRect(a.left, a.top, a.right - a.left, a.bottom - a.top);
          ctx.restore();
        },
        afterDraw(chart) {
          const { ctx } = chart;
          ctx.save();
          ctx.fillStyle = "#000";
          ctx.font = "21.5px " + FONT;
          ctx.textAlign = "right";
          ctx.textBaseline = "middle";
          ctx.fillText(seriesLabels[0], 390, 374);
          ctx.fillText(seriesLabels[1], 390, 392);
          ctx.drawImage(circleImg, 435, 367);
          ctx.drawImage(plusImg, 435, 385);

          // |alpha_N|
          ctx.textAlign = "left";
          ctx.font = "22px " + FONT;
          let x = 9;
          ctx.fillText("|\u03b1", x, 408);
          x += ctx.measureText("|\u03b1").width;
          ctx.font = "15px " + FONT;
          ctx.fillText("N", x, 415);
          x += ctx.measureText("N").width;
          ctx.font = "22px " + FONT;
          ctx.fillText("|", x, 408);
          ctx.restore();
        },
      };

      const chebChart = new Chart(document.getElementById("chebChart"), {
        type: "scatter",
        data: {
          datasets: [
            {
              label: seriesLabels[0],
              data: toPoints([...circHead, ...circFall, ...circBand, ...circBandFill, ...circBandMore,
                ...circEdge, ...circLow]),
              pointStyle: circleImg,
              pointRadius: 5,
              order: 1,
              clip: 8,
            },
            {
              label: seriesLabels[1],
              data: toPoints([...plusHead, ...plusMid, ...plusBand, ...plusBandFill, ...plusSteep,
                ...plusSteepFill, ...plusStray, ...plusTail, ...plusTailFill]),
              pointStyle: plusImg,
              pointRadius: 6,
              order: 0,
              clip: 8,
            },
          ],
        },
        options: {
          responsive: false,
          animation: false,
          events: [],
          layout: { padding: 0, autoPadding: false },
          plugins: {
            legend: { display: false },
            tooltip: { enabled: false },
            title: {
              display: true,
              fullSize: false,
              text: "Sound wave, mode n=0",
              color: "#000",
              font: { family: FONT, size: 24, weight: "normal", lineHeight: 1.2 },
              padding: { top: 0.6, bottom: 20.6 },
            },
          },
          scales: {
            x: {
              type: "logarithmic",
              position: "bottom",
              min: 1,
              max: 2460,
              grid: { display: false, drawTicks: false },
              border: { display: false },
              afterBuildTicks: (s) => {
                s.ticks = xTickValues.map((v) => ({ value: v }));
              },
              afterFit: (s) => {
                s.height = 71;
                s.paddingLeft = 0;
                s.paddingRight = 0;
              },
              ticks: {
                autoSkip: false,
                maxRotation: 0,
                padding: 8.6,
                color: "#000",
                font: { family: FONT, size: 24 },
                callback: (v) => xTickLabels[xTickValues.indexOf(v)],
              },
              title: {
                display: true,
                text: "Chebyshev degree N",
                color: "#000",
                font: { family: FONT, size: 24 },
                padding: { top: 0, bottom: 7.6 },
              },
            },
            y: {
              type: "logarithmic",
              position: "left",
              min: 1e-26,
              max: 10,
              grid: { display: false, drawTicks: false },
              border: { display: false },
              afterBuildTicks: (s) => {
                s.ticks = yTickValues.map((v) => ({ value: v }));
              },
              afterFit: (s) => {
                s.width = 140;
                s.paddingTop = 0;
                s.paddingBottom = 0;
              },
              ticks: {
                autoSkip: false,
                padding: 14,
                color: "#000",
                font: { family: FONT, size: 24 },
                callback: (v) => {
                  const i = yTickValues.findIndex((t) => Math.abs(Math.log10(t) - Math.log10(v)) < 1e-6);
                  return i >= 0 ? yTickLabels[i] : "";
                },
              },
            },
          },
        },
        plugins: [frameTicks],
      });
    </script>
  </body>
</html>
